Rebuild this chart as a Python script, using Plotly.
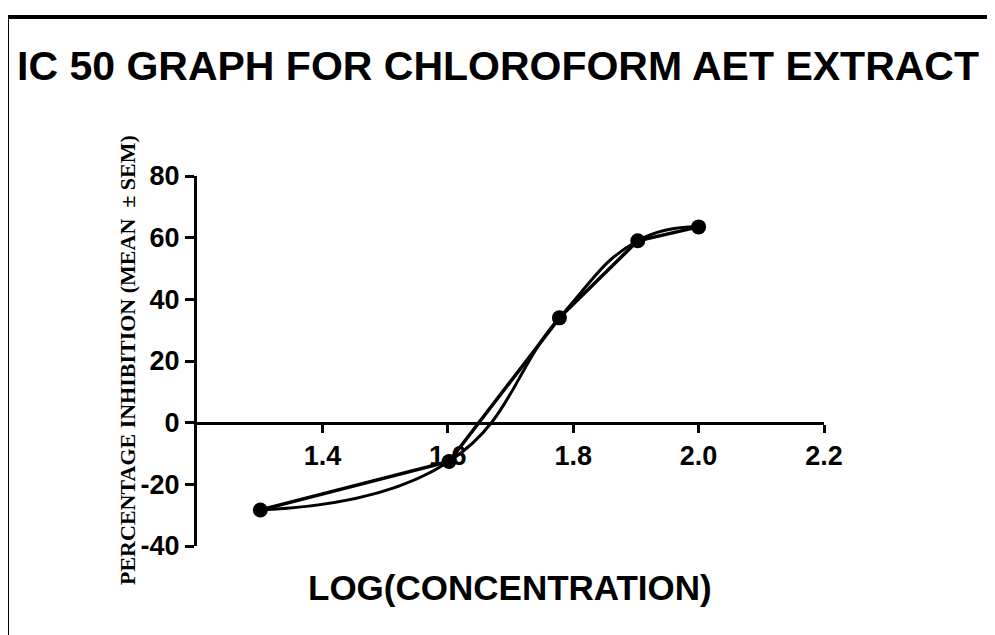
import plotly.graph_objects as go

# Data
log_conc = [1.301, 1.602, 1.778, 1.903, 2.000]
inhibition = [-28.3, -12.6, 34.0, 59.0, 63.5]

x_tickvals = [1.4, 1.6, 1.8, 2.0, 2.2]
x_ticktext = ["1.4", "1.6", "1.8", "2.0", "2.2"]
y_tickvals = [-40, -20, 0, 20, 40, 60, 80]
y_ticktext = ["-40", "-20", "0", "20", "40", "60", "80"]

W, H = 995, 635
OX, OY = 8, 8  # page offset of the rendered figure
L, R, T, B = 197 - OX, 824 - OX, 176 - OY, 546 - OY  # plot area in figure pixels

def px_x(p):
    return (p - OX - L) / (R - L)

def px_y(p):
    return (B - (p - OY)) / (B - T)

fig = go.Figure()

# smooth (fitted-looking) curve
fig.add_trace(go.Scatter(
    x=log_conc, y=inhibition, mode="lines",
    line=dict(color="black", width=3, shape="spline", smoothing=1.3),
    cliponaxis=False, showlegend=False, hoverinfo="skip"))

# data connected by straight segments with markers
fig.add_trace(go.Scatter(
    x=log_conc, y=inhibition, mode="lines+markers",
    line=dict(color="black", width=3.5),
    marker=dict(color="black", size=15),
    cliponaxis=False, showlegend=False))

tick_font = dict(family="Liberation Sans, Arial, sans-serif", size=27, color="black", weight="bold")

fig.update_layout(
    width=W, height=H,
    margin=dict(l=L, r=W - R, t=T, b=H - B, pad=0),
    paper_bgcolor="white", plot_bgcolor="white",
    showlegend=False,
    xaxis=dict(
        range=[1.2, 2.2], anchor="free", position=40 / 120,
        showline=True, linecolor="black", linewidth=3,
        ticks="outside", ticklen=8, tickwidth=3, tickcolor="black",
        tickvals=x_tickvals, ticktext=x_ticktext,
        showgrid=False, zeroline=False, tickfont=tick_font,
    ),
    yaxis=dict(
        range=[-40, 80],
        showline=True, linecolor="black", linewidth=3,
        ticks="outside", ticklen=9, tickwidth=3, tickcolor="black",
        tickvals=y_tickvals, ticktext=y_ticktext,
        showgrid=False, zeroline=False, tickfont=tick_font,
    ),
)

# frame box (left and top edges visible; others off-page)
fig.add_shape(type="rect", xref="paper", yref="paper",
              x0=px_x(7), x1=px_x(1020), y0=px_y(17), y1=px_y(670),
              line=dict(color="black", width=4), fillcolor="rgba(0,0,0,0)", layer="below")

fig.add_annotation(
    text="IC 50 GRAPH FOR CHLOROFORM AET EXTRACT",
    xref="paper", yref="paper", x=px_x(498), y=px_y(66),
    xanchor="center", yanchor="middle", showarrow=False,
    font=dict(family="Liberation Sans, Arial, sans-serif", size=41, color="black", weight="bold"))

fig.add_annotation(
    text="PERCENTAGE INHIBITION (MEAN  ± SEM)",
    xref="paper", yref="paper", x=px_x(127), y=px_y(360),
    xanchor="center", yanchor="middle", showarrow=False, textangle=-90,
    font=dict(family="Liberation Serif, Times New Roman, serif", size=22, color="black", weight="bold"))

fig.add_annotation(
    text="LOG(CONCENTRATION)",
    xref="paper", yref="paper", x=px_x(510), y=px_y(587),
    xanchor="center", yanchor="middle", showarrow=False,
    font=dict(family="Liberation Sans, Arial, sans-serif", size=35, color="black", weight="bold"))

fig.write_html("out.html")
